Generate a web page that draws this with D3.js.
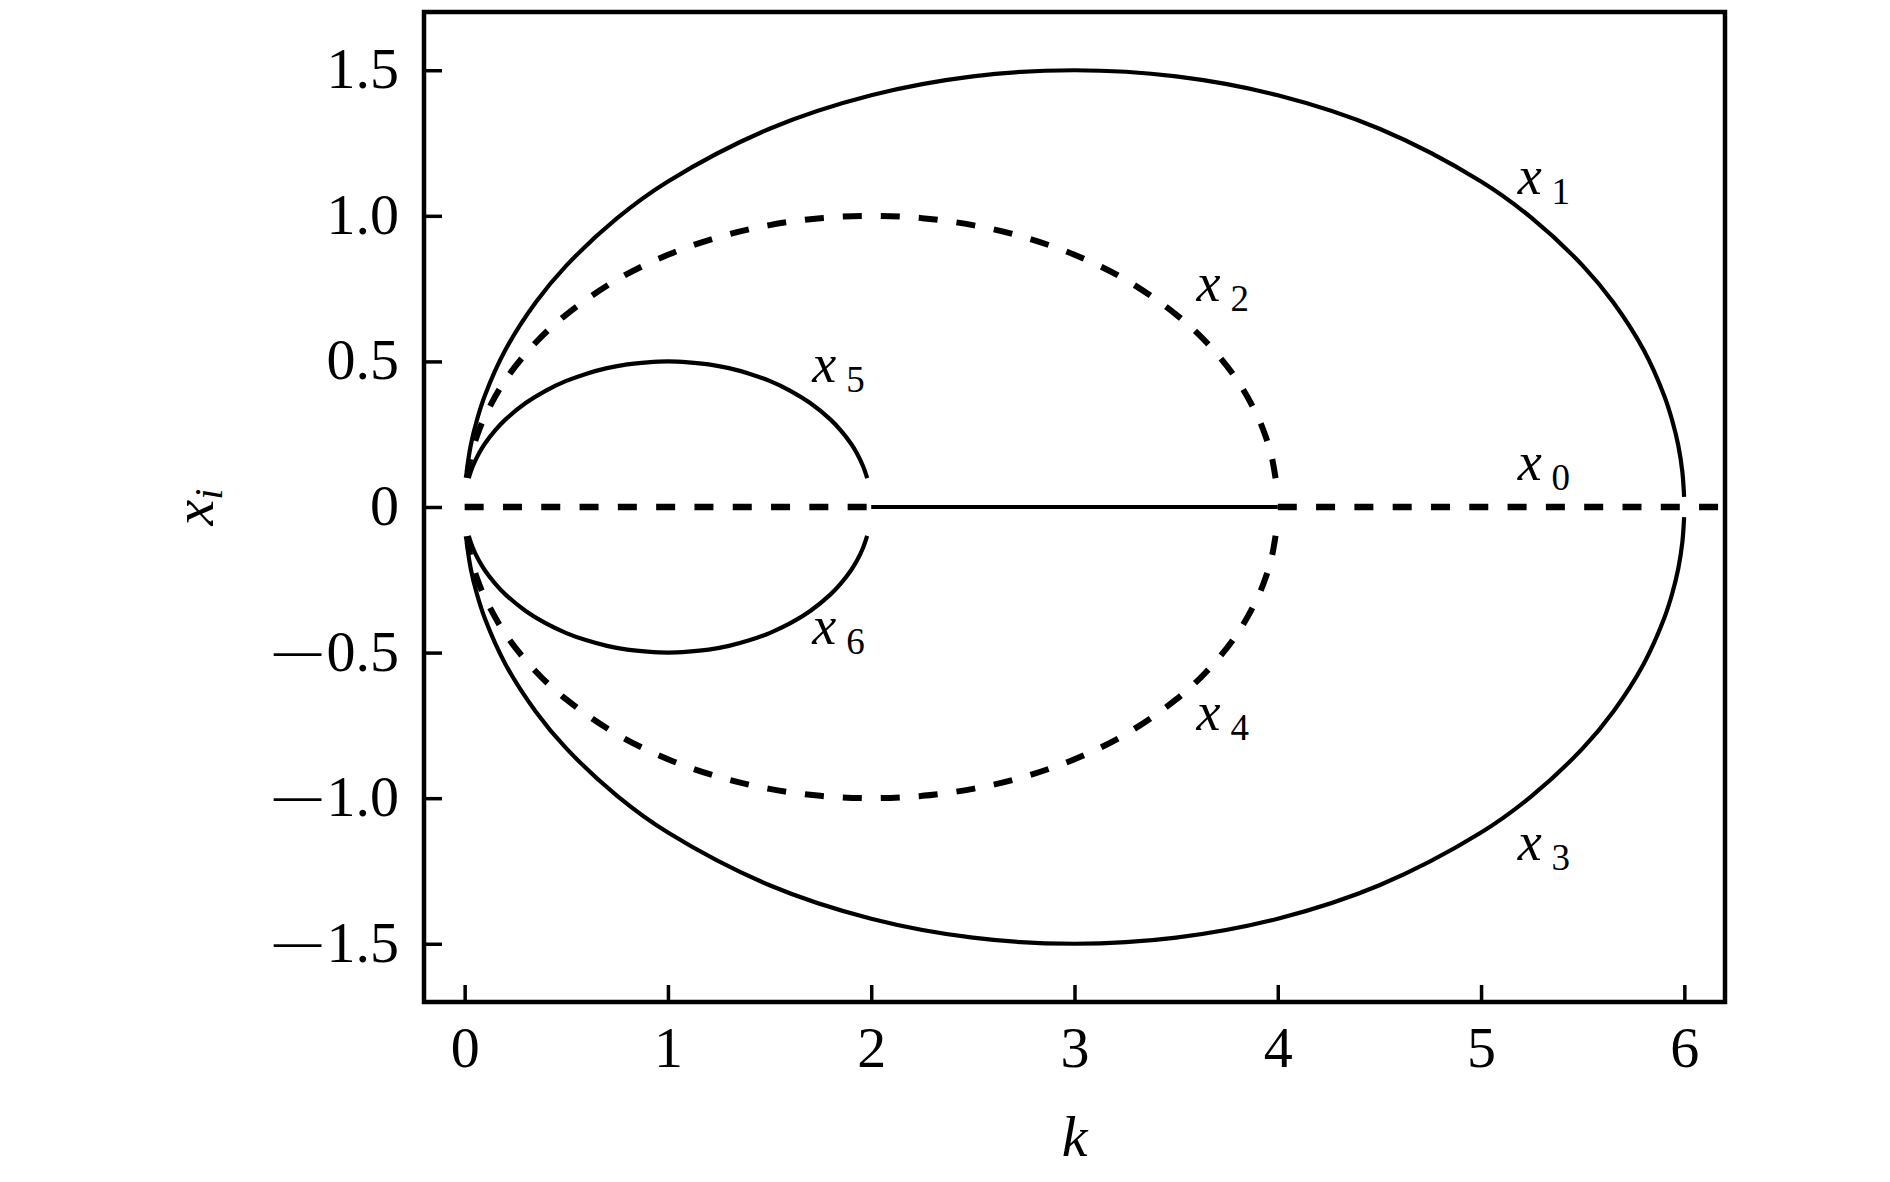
<!DOCTYPE html>
<html><head><meta charset="utf-8">
<script src="https://cdn.jsdelivr.net/npm/d3@7"></script>
<style>
body{margin:0;background:#fff}
svg{display:block}
text{font-family:"Liberation Serif","Times New Roman",serif;fill:#000}
</style>
</head><body>
<svg id="chart" width="1890" height="1182"></svg>
<script>
// ---- tick labels ----
const kTicks = [0, 1, 2, 3, 4, 5, 6];
const xiTicks = [-1.5, -1.0, -0.5, 0, 0.5, 1.0, 1.5];

// ---- outer branches x1 (upper) / x3 (lower) ----
const kOuter = [0.01, 0.03, 0.06, 0.1, 0.2, 0.35, 0.5, 0.75, 1.0, 1.5, 2.0, 2.5, 3.0, 3.5, 4.0, 4.5, 5.0, 5.25, 5.5, 5.65, 5.8, 5.9, 5.94, 5.97, 5.99, 5.999];
const x1Vals = [0.122, 0.212, 0.298, 0.384, 0.539, 0.703, 0.829, 0.992, 1.118, 1.299, 1.414, 1.479, 1.5, 1.479, 1.414, 1.299, 1.118, 0.992, 0.829, 0.703, 0.539, 0.384, 0.298, 0.212, 0.122, 0.035];
const x3Vals = [-0.122, -0.212, -0.298, -0.384, -0.539, -0.703, -0.829, -0.992, -1.118, -1.299, -1.414, -1.479, -1.5, -1.479, -1.414, -1.299, -1.118, -0.992, -0.829, -0.703, -0.539, -0.384, -0.298, -0.212, -0.122, -0.035];

// ---- middle branches x2 (upper) / x4 (lower), dashed ----
const kMid = [0.01, 0.03, 0.06, 0.1, 0.2, 0.35, 0.5, 0.75, 1.0, 1.25, 1.5, 1.75, 2.0, 2.25, 2.5, 2.75, 3.0, 3.25, 3.5, 3.65, 3.8, 3.9, 3.94, 3.97, 3.99];
const x2Vals = [0.100, 0.173, 0.243, 0.312, 0.436, 0.565, 0.661, 0.781, 0.866, 0.927, 0.968, 0.992, 1.0, 0.992, 0.968, 0.927, 0.866, 0.781, 0.661, 0.565, 0.436, 0.312, 0.243, 0.173, 0.095];
const x4Vals = [-0.100, -0.173, -0.243, -0.312, -0.436, -0.565, -0.661, -0.781, -0.866, -0.927, -0.968, -0.992, -1.0, -0.992, -0.968, -0.927, -0.866, -0.781, -0.661, -0.565, -0.436, -0.312, -0.243, -0.173, -0.095];

// ---- inner branches x5 (upper) / x6 (lower) ----
const kInner = [0.02, 0.04, 0.07, 0.1, 0.15, 0.2, 0.3, 0.4, 0.5, 0.6, 0.7, 0.8, 0.9, 1.0, 1.1, 1.2, 1.3, 1.4, 1.5, 1.6, 1.7, 1.8, 1.85, 1.9, 1.93, 1.96, 1.98];
const x5Vals = [0.0995, 0.140, 0.184, 0.218, 0.263, 0.300, 0.357, 0.400, 0.433, 0.458, 0.477, 0.490, 0.497, 0.5, 0.497, 0.490, 0.477, 0.458, 0.433, 0.400, 0.357, 0.300, 0.263, 0.218, 0.184, 0.140, 0.0995];
const x6Vals = [-0.0995, -0.140, -0.184, -0.218, -0.263, -0.300, -0.357, -0.400, -0.433, -0.458, -0.477, -0.490, -0.497, -0.5, -0.497, -0.490, -0.477, -0.458, -0.433, -0.400, -0.357, -0.300, -0.263, -0.218, -0.184, -0.140, -0.0995];

// ---- trivial branch x0 = 0, in three pieces ----
const x0Start = [0, 2, 4];
const x0End   = [2, 4, 6.2];
const x0Dashed = [true, false, true];

// ---- curve labels ----
const labelNames = ["x", "x", "x", "x", "x", "x", "x"];
const labelSubs  = ["0", "1", "2", "3", "4", "5", "6"];

// ================= drawing =================
const svg = d3.select("#chart");
const M = {left: 424, right: 1725, top: 12, bottom: 1002};
const x = d3.scaleLinear().domain([-0.2, 6.2]).range([M.left, M.right]);
const y = d3.scaleLinear().domain([-1.7, 1.7]).range([M.bottom, M.top]);

const line = d3.line().x(d => x(d[0])).y(d => y(d[1])).curve(d3.curveCatmullRom.alpha(0.5));

const curves = [
  {k: kOuter, v: x1Vals, dashed: false},
  {k: kOuter, v: x3Vals, dashed: false},
  {k: kMid, v: x2Vals, dashed: true},
  {k: kMid, v: x4Vals, dashed: true},
  {k: kInner, v: x5Vals, dashed: false},
  {k: kInner, v: x6Vals, dashed: false}
];

const plot = svg.append("g");
curves.forEach(c => {
  const pts = c.k.map((kk, i) => [kk, c.v[i]]);
  plot.append("path")
    .attr("d", line(pts))
    .attr("fill", "none")
    .attr("stroke", "#000")
    .attr("stroke-width", c.dashed ? 6 : 4.2)
    .attr("stroke-dasharray", c.dashed ? "19 19" : null);
});

x0Start.forEach((s, i) => {
  plot.append("path")
    .attr("d", d3.line().x(d => x(d[0])).y(d => y(d[1]))([[s, 0], [x0End[i], 0]]))
    .attr("fill", "none")
    .attr("stroke", "#000")
    .attr("stroke-width", x0Dashed[i] ? 6.5 : 4)
    .attr("stroke-dasharray", x0Dashed[i] ? "19 19.3" : null);
});

// axes
const fmtY = d => d === 0 ? "0" : d3.format(".1f")(d);
const yAxis = svg.append("g")
  .attr("transform", `translate(${M.left},0)`)
  .call(d3.axisLeft(y).tickValues(xiTicks).tickFormat(fmtY).tickSizeInner(-18).tickSizeOuter(0).tickPadding(25));
const xAxis = svg.append("g")
  .attr("transform", `translate(0,${M.bottom})`)
  .call(d3.axisBottom(x).tickValues(kTicks).tickFormat(d3.format("d")).tickSizeInner(-17).tickSizeOuter(0).tickPadding(24));

[yAxis, xAxis].forEach(a => {
  a.attr("font-family", "Liberation Serif, Times New Roman, serif").attr("font-size", 58);
  a.select(".domain").remove();
  a.selectAll(".tick line").attr("stroke", "#000").attr("stroke-width", 3.5);
  a.selectAll(".tick text").attr("fill", "#000");
});

yAxis.selectAll(".tick text").each(function() {
  const t = d3.select(this);
  const s = t.text();
  t.attr("dy", null).attr("y", 17.5);
  if (s.startsWith("\u2212")) {
    t.text(null);
    t.append("tspan").attr("dy", 3).attr("textLength", 58).attr("lengthAdjust", "spacingAndGlyphs").text("\u2212");
    t.append("tspan").attr("dy", -3).text(s.slice(1));
  }
});

// frame
svg.append("rect")
  .attr("x", M.left).attr("y", M.top)
  .attr("width", M.right - M.left).attr("height", M.bottom - M.top)
  .attr("fill", "none").attr("stroke", "#000").attr("stroke-width", 4.5);

// axis titles
svg.append("text")
  .attr("x", x(3)).attr("y", 1156)
  .attr("text-anchor", "middle")
  .attr("font-size", 58).attr("font-style", "italic")
  .text("k");

const yt = svg.append("text")
  .attr("transform", `translate(213,${y(0)}) rotate(-90)`)
  .attr("text-anchor", "middle")
  .attr("font-size", 58);
yt.append("tspan").attr("font-style", "italic").text("x");
yt.append("tspan").attr("font-style", "italic").attr("font-size", 40).attr("dy", 9).text("i");

// curve labels (anchor positions in data units)
const labelK  = [5.18, 5.18, 3.60, 5.18, 3.60, 1.71, 1.71];
const labelXi = [0.093, 1.075, 0.707, -1.212, -0.766, 0.431, -0.470];
labelNames.forEach((n, i) => {
  const t = svg.append("text")
    .attr("x", x(labelK[i])).attr("y", y(labelXi[i]))
    .attr("font-size", 54);
  t.append("tspan").attr("font-style", "italic").text(n);
  t.append("tspan").attr("font-size", 37).attr("dx", 10).attr("dy", 10).text(labelSubs[i]);
});
</script>
</body></html>
